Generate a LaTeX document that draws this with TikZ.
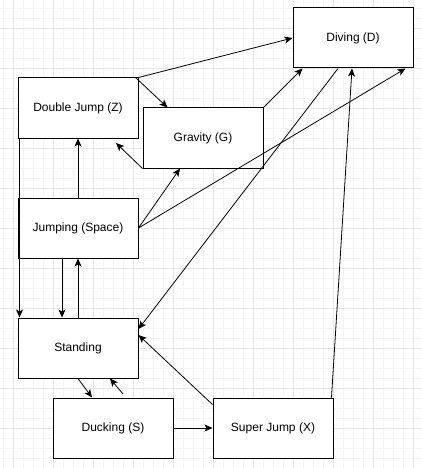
\documentclass[tikz,border=0pt]{standalone}
\usepackage{fontspec}
\setmainfont{Liberation Sans}
\usetikzlibrary{arrows.meta}
\definecolor{gridminor}{HTML}{F4F4F4}
\definecolor{gridmajor}{HTML}{E6E6E6}
\begin{document}
\begin{tikzpicture}[x=1pt,y=-1pt,
  state/.style={draw=black,line width=1pt,fill=white,minimum width=120pt,minimum height=60pt,inner sep=0pt,
    font=\fontsize{12pt}{14pt}\selectfont},
  conn/.style={line width=0.8pt,-{Stealth[length=8pt,width=7pt,inset=2pt]}}]
\useasboundingbox (0,0) rectangle (421,468);
\fill[white] (0,0) rectangle (421,468);
% grid
\foreach \x in {3,13,...,423} \draw[gridminor,line width=0.8pt] (\x,0) -- (\x,468);
\foreach \y in {8,18,...,468} \draw[gridminor,line width=0.8pt] (0,\y) -- (421,\y);
\foreach \x in {13,53,...,413} \draw[gridmajor,line width=0.8pt] (\x,0) -- (\x,468);
\foreach \y in {28,68,...,468} \draw[gridmajor,line width=0.8pt] (0,\y) -- (421,\y);
% nodes
\node[state] (dj) at (78,108) {Double Jump (Z)};
\node[state] (g) at (203,138) {Gravity (G)};
\node[state] (j) at (78,228) {Jumping (Space)};
\node[state] (s) at (78,348) {Standing};
\node[state] (du) at (113,428) {Ducking (S)};
\node[state] (sj) at (273,428) {Super Jump (X)};
\node[state] (dv) at (353,38) {Diving (D)};
\coordinate (gdjend) at (116,143);
\coordinate (dusstart) at (123,394);
% connectors
\draw[conn] (dj.north east) -- (dv.west);
\draw[conn] ([xshift=-3pt]dj.north east) -- ([xshift=25pt]g.north west);
\draw[conn] (g.south west) -- (gdjend);
\draw[conn] (j.north) -- (dj.south);
\draw[conn] ([xshift=2pt]dj.south west) -- ([xshift=2pt]s.north west);
\draw[conn] (j.east) -- ([xshift=-23pt]g.south);
\draw[conn] (g.north east) -- ([xshift=10pt]dv.south west);
\draw[conn] ([xshift=-15pt]dv.south) -- ([yshift=19pt]s.east);
\draw[conn] ([xshift=-2pt]sj.north east) -- ([xshift=-1pt]dv.south);
\draw[conn] (j.east) -- ([xshift=-8pt]dv.south east);
\draw[conn] ([xshift=-16pt]j.south) -- ([xshift=-16pt]s.north);
\draw[conn] (s.north) -- (j.south);
\draw[conn] (s.south) -- ([xshift=-21pt]du.north);
\draw[conn] (dusstart) -- ([xshift=32pt]s.south);
\draw[conn] (du.east) -- (sj.west);
\draw[conn] ([yshift=-7pt]sj.north west) -- ([yshift=13pt]s.east);
\end{tikzpicture}
\end{document}
